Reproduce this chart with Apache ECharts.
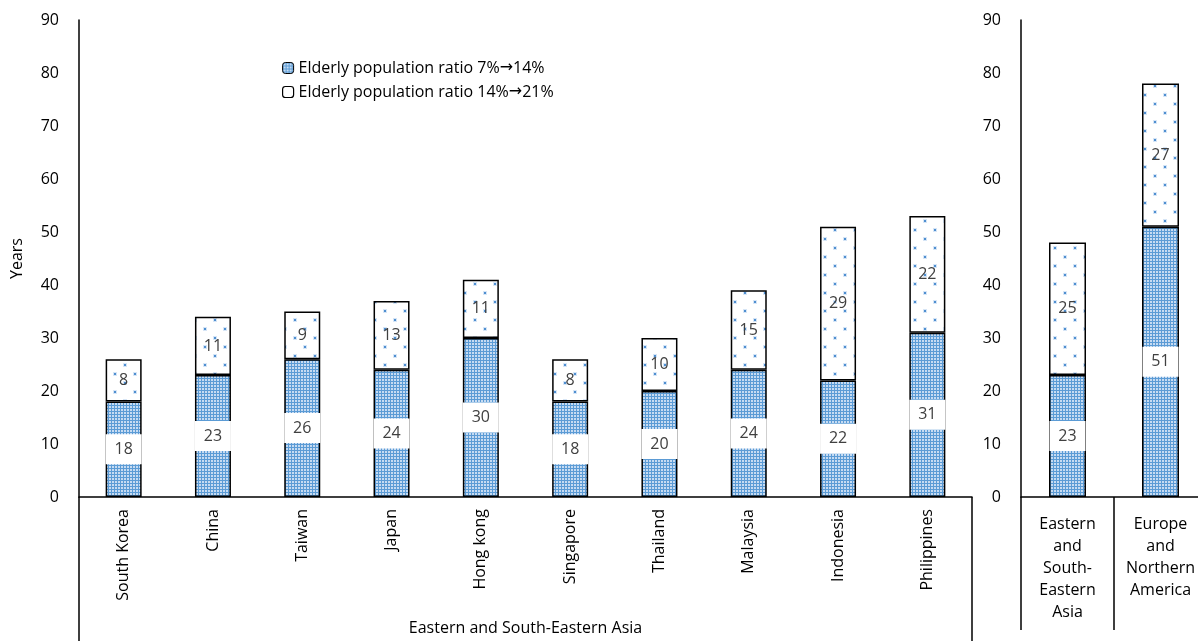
<!DOCTYPE html>
<html>
<head>
<meta charset="utf-8">
<script src="https://cdn.jsdelivr.net/npm/echarts@6/dist/echarts.min.js"></script>
<style>
  html, body { margin: 0; padding: 0; background: #fff; }
  #main { width: 1198px; height: 641px; }
</style>
</head>
<body>
<div id="main"></div>
<script>
// data
const countries = ['South Korea', 'China', 'Taiwan', 'Japan', 'Hong kong', 'Singapore', 'Thailand', 'Malaysia', 'Indonesia', 'Philippines'];
const years7to14 = [18, 23, 26, 24, 30, 18, 20, 24, 22, 31];
const years14to21 = [8, 11, 9, 13, 11, 8, 10, 15, 29, 22];

const regions = ['Eastern and South-Eastern Asia', 'Europe and Northern America'];
const regionTickLabels = ['Eastern\nand\nSouth-\nEastern\nAsia', 'Europe\nand\nNorthern\nAmerica'];
const region7to14 = [23, 51];
const region14to21 = [25, 27];

const seriesNames = ['Elderly population ratio 7%\u219214%', 'Elderly population ratio 14%\u219221%'];
const groupName = 'Eastern and South-Eastern Asia';

const FONT = '"Open Sans", sans-serif';

// fill patterns (excel-like)
function checkPattern() {
    const c = document.createElement('canvas');
    c.width = 3; c.height = 3;
    const g = c.getContext('2d');
    g.fillStyle = '#c6dbf2';
    g.fillRect(0, 0, 3, 3);
    g.fillStyle = '#5b9bd5';
    g.fillRect(0, 0, 3, 1);
    g.fillRect(0, 0, 1, 3);
    return c;
}
function dotPattern() {
    const c = document.createElement('canvas');
    c.width = 20; c.height = 18;
    const g = c.getContext('2d');
    g.fillStyle = '#ffffff';
    g.fillRect(0, 0, 20, 18);
    g.fillStyle = '#d6e5f6';
    g.fillRect(3, 3, 4, 4);
    g.fillRect(13, 12, 4, 4);
    g.fillStyle = '#4f8fd0';
    g.fillRect(4, 4, 2, 2);
    g.fillRect(14, 13, 2, 2);
    return c;
}
const checkFill = { image: checkPattern(), repeat: 'repeat' };
const dotFill = { image: dotPattern(), repeat: 'repeat' };

const chart = echarts.init(document.getElementById('main'));

const yAxisBase = {
    type: 'value',
    min: 0,
    max: 90,
    interval: 10,
    axisLine: { show: true, lineStyle: { color: '#000', width: 1.5 } },
    axisTick: { show: false },
    splitLine: { show: false },
    axisLabel: { color: '#000', fontSize: 16, fontFamily: FONT, margin: 20 }
};

const lowerLabel = {
    show: true,
    position: 'inside',
    color: '#404040',
    fontSize: 16,
    fontFamily: FONT,
    backgroundColor: '#fff',
    width: 36,
    align: 'center',
    padding: [7, 0]
};
const upperLabel = {
    show: true,
    position: 'inside',
    color: '#404040',
    fontSize: 16,
    fontFamily: FONT
};
const lowerStyle = { color: checkFill, borderColor: '#000', borderWidth: 1.5 };
const upperStyle = { color: dotFill, borderColor: '#000', borderWidth: 1.5 };

chart.setOption({
    animation: false,
    textStyle: { fontFamily: FONT },
    legend: {
        orient: 'vertical',
        left: 277,
        top: 55,
        itemWidth: 11,
        itemHeight: 11,
        itemGap: 8,
        // the arrow is set in a font that draws it full size
        formatter: (name) => name.split('\u2192').join('{arr|\u2192}'),
        textStyle: {
            fontSize: 16, color: '#000', fontFamily: FONT,
            rich: { arr: { fontSize: 16, fontFamily: '"DejaVu Sans"', color: '#000' } }
        },
        data: [
            { name: seriesNames[0], itemStyle: { color: checkFill, borderColor: '#000', borderWidth: 1 } },
            { name: seriesNames[1], itemStyle: { color: '#fff', borderColor: '#000', borderWidth: 1.2 } }
        ]
    },
    grid: [
        { left: 79, top: 20, width: 893, bottom: 144, outerBoundsMode: 'none' },
        { left: 1021, top: 20, width: 186, bottom: 144, outerBoundsMode: 'none' }
    ],
    xAxis: [
        {
            type: 'category',
            gridIndex: 0,
            data: countries,
            axisLine: { lineStyle: { color: '#000', width: 1.5 } },
            axisTick: { show: true, interval: (i) => i === 0, length: 144, lineStyle: { color: '#000', width: 1.5 } },
            axisLabel: { interval: 0, rotate: 90, margin: 12, color: '#000', fontSize: 16, fontFamily: FONT },
            name: groupName,
            nameLocation: 'middle',
            nameGap: 123,
            nameTextStyle: { color: '#000', fontSize: 16, fontFamily: FONT }
        },
        {
            type: 'category',
            gridIndex: 1,
            data: regions,
            axisLine: { lineStyle: { color: '#000', width: 1.5 } },
            axisTick: { show: true, interval: 0, length: 133, lineStyle: { color: '#000', width: 1.5 } },
            axisLabel: {
                interval: 0, margin: 16, color: '#000', fontSize: 16, fontFamily: FONT, lineHeight: 22,
                formatter: (v, i) => regionTickLabels[i]
            }
        }
    ],
    yAxis: [
        Object.assign({}, yAxisBase, {
            gridIndex: 0,
            name: 'Years',
            nameLocation: 'middle',
            nameGap: 54,
            nameTextStyle: { color: '#000', fontSize: 16, fontFamily: FONT }
        }),
        Object.assign({}, yAxisBase, { gridIndex: 1 })
    ],
    series: [
        {
            name: seriesNames[0], type: 'bar', stack: 'left', xAxisIndex: 0, yAxisIndex: 0,
            barWidth: 36, data: years7to14, itemStyle: lowerStyle, label: lowerLabel
        },
        {
            name: seriesNames[1], type: 'bar', stack: 'left', xAxisIndex: 0, yAxisIndex: 0,
            barWidth: 36, data: years14to21, itemStyle: upperStyle, label: upperLabel
        },
        {
            name: seriesNames[0], type: 'bar', stack: 'right', xAxisIndex: 1, yAxisIndex: 1,
            barWidth: 37, data: region7to14, itemStyle: lowerStyle, label: lowerLabel
        },
        {
            name: seriesNames[1], type: 'bar', stack: 'right', xAxisIndex: 1, yAxisIndex: 1,
            barWidth: 37, data: region14to21, itemStyle: upperStyle, label: upperLabel
        }
    ]
});
</script>
</body>
</html>
